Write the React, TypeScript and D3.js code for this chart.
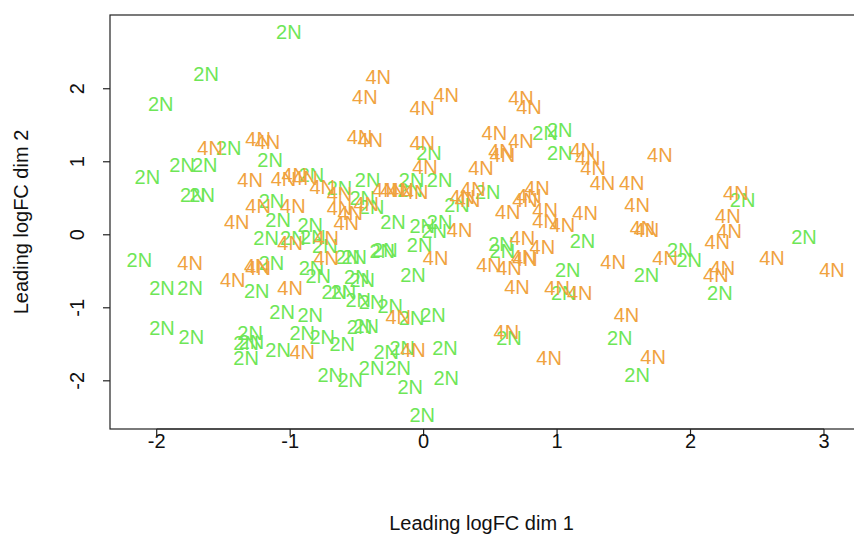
import React from "react";
import * as d3 from "d3";

// MDS coordinates of the 2N samples (leading logFC dim 1, dim 2)
const dim1_2N = [
  -1.01, -1.63, -1.97, -1.46, -1.15, -1.81, -1.64, -2.07, -1.73, -1.66,
  -0.84, -0.63, -1.14, -1.09, -0.85, -1.18, -0.98, -0.83, -0.74, -2.13,
  -1.14, -0.57, -0.84, -0.79, -1.96, -1.75, -1.25, -0.67, -0.6, -1.06,
  -0.85, -1.96, -1.74, -1.3, -1.33, -1.29, -1.33, -1.09, -0.91, -0.76,
  -0.61, -0.7, -0.55, -0.43, 0.04, -0.42, -0.09, 0.12, -0.1, -0.46,
  -0.39, 0.25, -0.23, -0.01, 0.08, 0.12, -0.03, -0.29, -0.31, -0.52,
  -0.08, -0.5, -0.46, -0.49, -0.39, -0.25, -0.09, 0.07, -0.48, -0.28,
  -0.16, 0.16, -0.39, -0.19, -0.1, 0.17, -0.01, 0.48, 0.91, 1.02,
  1.02, 0.58, 0.59, 1.19, 1.08, 1.05, 0.64, 2.39, 2.85, 1.92,
  1.99, 1.67, 2.22, 1.47, 1.6,
];
const dim2_2N = [
  2.78, 2.21, 1.79, 1.19, 1.03, 0.96, 0.96, 0.79, 0.55, 0.55,
  0.82, 0.64, 0.47, 0.21, 0.14, -0.04, -0.04, -0.03, -0.15, -0.34,
  -0.38, -0.3, -0.45, -0.56, -0.73, -0.73, -0.77, -0.78, -0.78, -1.05,
  -1.1, -1.27, -1.4, -1.34, -1.48, -1.47, -1.68, -1.58, -1.34, -1.4,
  -1.49, -1.92, -1.99, -1.25, 1.12, 0.75, 0.75, 0.75, 0.62, 0.51,
  0.38, 0.41, 0.18, 0.12, 0.05, 0.18, -0.14, -0.21, -0.22, -0.3,
  -0.55, -0.58, -0.62, -0.89, -0.92, -0.97, -1.14, -1.1, -1.26, -1.6,
  -1.55, -1.55, -1.82, -1.82, -2.08, -1.96, -2.47, 0.59, 1.4, 1.44,
  1.12, -0.12, -0.22, -0.08, -0.48, -0.79, -1.41, 0.48, -0.03, -0.21,
  -0.34, -0.55, -0.79, -1.41, -1.92,
];

// MDS coordinates of the 4N samples
const dim1_4N = [
  -0.34, -0.44, 0.17, -0.01, 0.73, 0.79, -1.6, -1.24, -1.17, -0.48,
  -0.4, 0.53, 0.73, -0.01, 0.58, 0.59, 1.19, 1.23, 1.27, 0.01,
  0.43, -1.3, -1.05, -0.97, -0.89, -0.76, -0.63, -1.24, -0.98, -0.63,
  -0.55, -1.4, -0.58, -1.0, -0.73, -1.75, -1.25, -1.24, -0.73, -1.43,
  -1.0, -0.91, -0.29, -0.23, -0.17, -0.06, -0.43, 0.29, 0.33, 0.37,
  0.27, 0.09, -0.19, -0.08, 0.85, 0.79, 0.76, 0.63, 0.91, 1.21,
  0.91, 1.04, 0.74, 0.89, 0.75, 0.76, 0.49, 0.64, 0.7, 1.0,
  1.17, 0.62, 0.94, 1.77, 1.34, 1.56, 1.6, 2.34, 2.28, 1.64,
  1.67, 2.29, 2.2, 1.81, 1.42, 2.61, 3.06, 2.24, 2.19, 1.52,
  1.72,
];
const dim2_4N = [
  2.16, 1.89, 1.92, 1.74, 1.88, 1.75, 1.19, 1.32, 1.27, 1.34,
  1.3, 1.4, 1.29, 1.26, 1.15, 1.1, 1.16, 1.05, 0.92, 0.93,
  0.92, 0.75, 0.77, 0.82, 0.78, 0.66, 0.56, 0.4, 0.4, 0.37,
  0.3, 0.18, 0.16, -0.11, -0.04, -0.38, -0.42, -0.45, -0.32, -0.62,
  -0.73, -1.6, 0.62, 0.62, 0.62, 0.59, 0.42, 0.52, 0.48, 0.63,
  0.07, -0.32, -1.12, -1.58, 0.64, 0.53, 0.48, 0.32, 0.34, 0.3,
  0.19, 0.14, -0.04, -0.16, -0.3, -0.33, -0.41, -0.45, -0.71, -0.73,
  -0.79, -1.33, -1.68, 1.1, 0.71, 0.71, 0.41, 0.58, 0.26, 0.1,
  0.07, 0.05, -0.1, -0.32, -0.37, -0.32, -0.48, -0.45, -0.55, -1.1,
  -1.67,
];

const groups = ["2N", "4N"];
const groupColors = ["#6EE657", "#F0A33F"];
const xTicks = [-2, -1, 0, 1, 2, 3];
const yTicks = [-2, -1, 0, 1, 2];
const xTitle = "Leading logFC dim 1";
const yTitle = "Leading logFC dim 2";

const W = 854;
const H = 534;
const left = 110;
const right = 856;
const top = 15;
const bottom = 429;
const FONT = "'Liberation Sans', Arial, Helvetica, sans-serif";
const FS = 20;

export default function App() {
  const x = d3.scaleLinear().domain([-2.35, 3.24]).range([left, right]);
  const y = d3.scaleLinear().domain([-2.66, 3.01]).range([bottom, top]);

  const points = [
    ...dim1_2N.map((v, i) => ({ x: v, y: dim2_2N[i], g: 0 })),
    ...dim1_4N.map((v, i) => ({ x: v, y: dim2_4N[i], g: 1 })),
  ];

  return (
    <div style={{ position: "fixed", left: 0, top: 0 }}>
      <svg width={W} height={H} style={{ display: "block", background: "#fff" }} fontFamily={FONT}>
        <rect x={left} y={top} width={right - left} height={bottom - top} fill="none" stroke="#222" strokeWidth={1.2} />

        {/* x axis */}
        <line x1={x(xTicks[0])} x2={x(xTicks[xTicks.length - 1])} y1={bottom} y2={bottom} stroke="#222" strokeWidth={1.2} />
        {xTicks.map((t) => (
          <g key={"xt" + t}>
            <line x1={x(t)} x2={x(t)} y1={bottom} y2={bottom + 7} stroke="#222" strokeWidth={1.2} />
            <text x={x(t)} y={bottom + 19} textAnchor="middle" fontSize={FS} fill="#111">
              {t < 0 ? "-" + Math.abs(t) : String(t)}
            </text>
          </g>
        ))}

        {/* y axis */}
        {yTicks.map((t) => (
          <g key={"yt" + t}>
            <line x1={left - 7} x2={left} y1={y(t)} y2={y(t)} stroke="#222" strokeWidth={1.2} />
            <text
              transform={`translate(${left - 26},${y(t)}) rotate(-90)`}
              textAnchor="middle"
              fontSize={FS}
              fill="#111"
            >
              {t < 0 ? "-" + Math.abs(t) : String(t)}
            </text>
          </g>
        ))}

        <text x={(left + 853) / 2} y={530} textAnchor="middle" fontSize={FS} fill="#111">
          {xTitle}
        </text>
        <text
          transform={`translate(28,${(top + bottom) / 2}) rotate(-90)`}
          textAnchor="middle"
          fontSize={FS}
          fill="#111"
        >
          {yTitle}
        </text>

        {/* sample labels */}
        {points.map((p, i) => (
          <text
            key={i}
            x={x(p.x)}
            y={y(p.y)}
            dy="0.36em"
            textAnchor="middle"
            fontSize={FS}
            fill={groupColors[p.g]}
          >
            {groups[p.g]}
          </text>
        ))}
      </svg>
    </div>
  );
}
